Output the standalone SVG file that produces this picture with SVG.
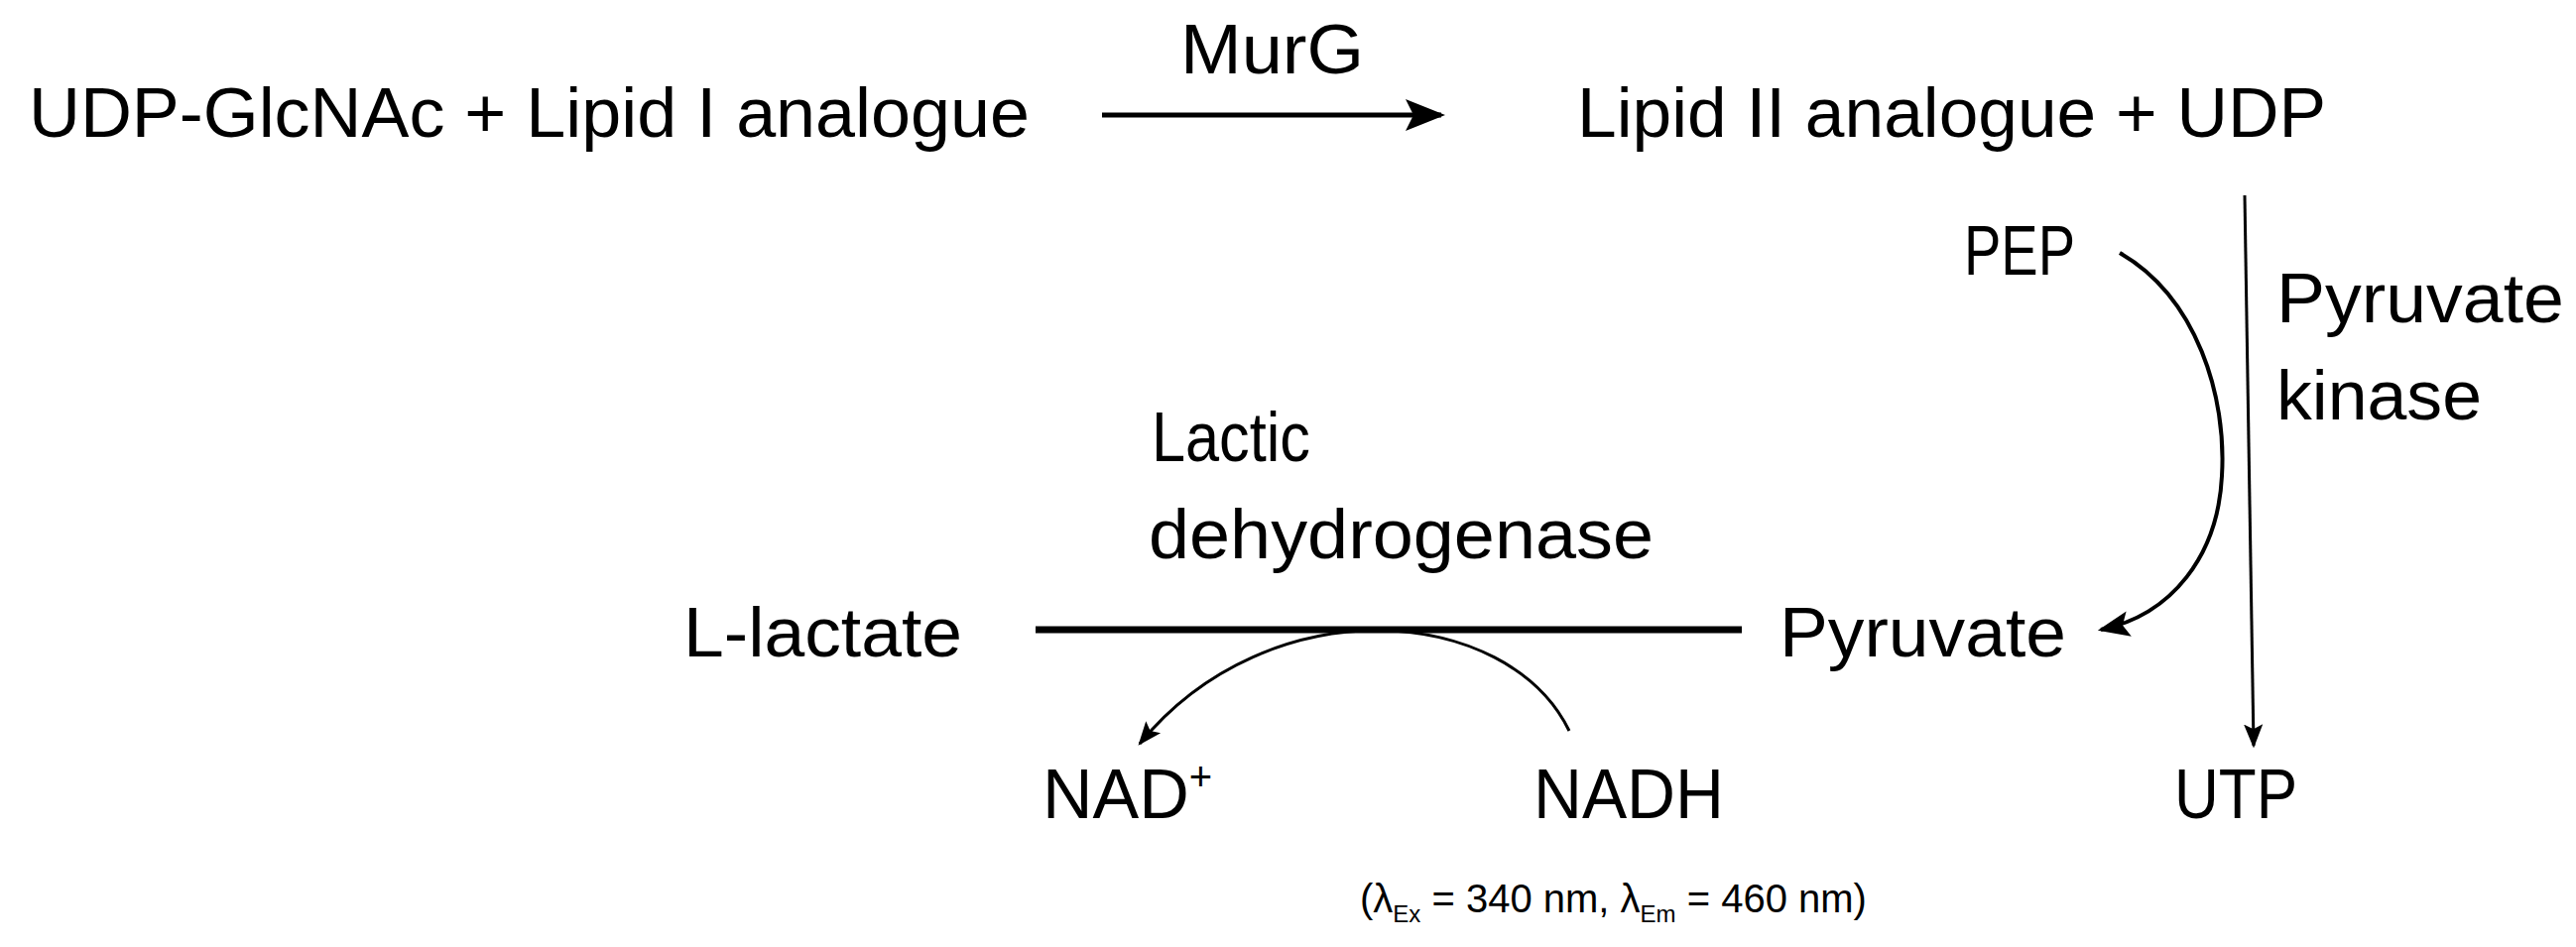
<svg xmlns="http://www.w3.org/2000/svg" width="2597" height="955" viewBox="0 0 2597 955">
<style>
text{font-family:"Liberation Sans",Arial,sans-serif;font-size:70px;fill:#000}
.c{fill:none;stroke:#000}
.s{font-size:40px}
.sub{font-size:24px}
</style>
<defs>
<marker id="ah" viewBox="0 0 10 10" refX="9" refY="5" markerWidth="5" markerHeight="5" orient="auto" markerUnits="userSpaceOnUse"><path d="M0,0L10,5L0,10z" fill="#000"/></marker>
<marker id="a1" viewBox="0 0 10 10" refX="9" refY="5" markerWidth="8" markerHeight="8" orient="auto"><path d="M0,1L10,5L0,9L2,5z" fill="#000"/></marker>
</defs>
<rect width="2597" height="955" fill="#fff"/>
<g id="udp"><text x="29" y="138" textLength="1009" lengthAdjust="spacingAndGlyphs">UDP-GlcNAc + Lipid I analogue</text></g>
<g id="murg"><text x="1190" y="74" textLength="185" lengthAdjust="spacingAndGlyphs">MurG</text></g>
<g id="lipid2"><text x="1590" y="138" textLength="755" lengthAdjust="spacingAndGlyphs">Lipid II analogue + UDP</text></g>
<g id="pep"><text x="1980" y="277" textLength="112" lengthAdjust="spacingAndGlyphs">PEP</text></g>
<g id="pk"><text x="2295" y="325" textLength="290" lengthAdjust="spacingAndGlyphs">Pyruvate</text><text x="2295" y="423" textLength="207" lengthAdjust="spacingAndGlyphs">kinase</text></g>
<g id="ldh"><text x="1161" y="465" textLength="160" lengthAdjust="spacingAndGlyphs">Lactic</text><text x="1158" y="563" textLength="509" lengthAdjust="spacingAndGlyphs">dehydrogenase</text></g>
<g id="lactate"><text x="689" y="662" textLength="281" lengthAdjust="spacingAndGlyphs">L-lactate</text></g>
<g id="pyruvate"><text x="1794" y="662" textLength="289" lengthAdjust="spacingAndGlyphs">Pyruvate</text></g>
<g id="nad"><text x="1051" y="825">NAD<tspan dy="-28" font-size="40">+</tspan></text></g>
<g id="nadh"><text x="1546" y="825" textLength="192" lengthAdjust="spacingAndGlyphs">NADH</text></g>
<g id="utp"><text x="2192" y="825" textLength="124" lengthAdjust="spacingAndGlyphs">UTP</text></g>
<g id="note"><text class="s" x="1371" y="920">(λ<tspan class="sub" dy="10">Ex</tspan><tspan dy="-10"> = 340 nm, λ</tspan><tspan class="sub" dy="10">Em</tspan><tspan dy="-10"> = 460 nm)</tspan></text></g>
<g id="connectors">
<path class="c" stroke-width="5" d="M1111,116H1453" marker-end="url(#a1)"/>
<path class="c" stroke-width="3" d="M2263,197L2272,752" marker-end="url(#a1)"/>
<path class="c" stroke-width="4" d="M2137,255C2215,300 2245,400 2240,480C2236,560 2190,620 2118,635" marker-end="url(#a1)"/>
<path class="c" stroke-width="7" d="M1756,635H1044" marker-end="url(#ah)"/>
<path class="c" stroke-width="3" d="M1582,737C1520,610 1280,590 1149,750" marker-end="url(#a1)"/>
</g>
</svg>
